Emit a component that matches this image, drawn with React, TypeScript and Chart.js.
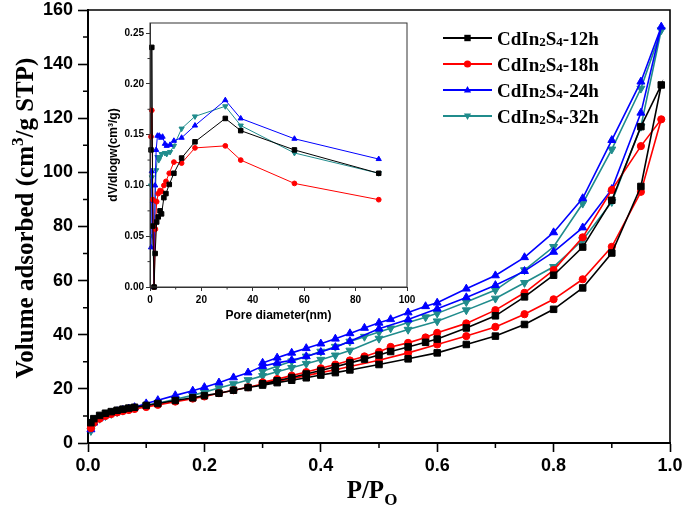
import React, { useEffect, useRef } from 'react';
import { Chart, registerables } from 'chart.js';

Chart.register(...registerables);

// ---------- main isotherm data ----------
const ADS_P = [0.005, 0.01, 0.02, 0.03, 0.04, 0.05, 0.06, 0.07, 0.08, 0.1, 0.12, 0.15, 0.18, 0.2, 0.225, 0.25, 0.275, 0.3, 0.325, 0.35, 0.375, 0.4, 0.425, 0.45, 0.5, 0.55, 0.6, 0.65, 0.7, 0.75, 0.8, 0.85, 0.9, 0.95, 0.985];
const DES_P = [0.95, 0.9, 0.85, 0.8, 0.75, 0.7, 0.65, 0.6, 0.58, 0.55, 0.52, 0.5, 0.475, 0.45, 0.425, 0.4, 0.375, 0.35, 0.325, 0.3];

const ADS_12H = [7.5, 9.0, 10.2, 11.0, 11.6, 12.1, 12.5, 12.9, 13.2, 13.9, 14.6, 15.7, 16.7, 17.5, 18.4, 19.5, 20.5, 21.4, 22.3, 23.2, 24.1, 25.1, 26.0, 27.0, 29.0, 31.1, 33.3, 36.4, 39.5, 43.8, 49.4, 57.3, 70.2, 94.8, 132.3];
const DES_12H = [116.9, 89.7, 72.4, 62.0, 54.0, 47.0, 42.5, 38.4, 37.2, 35.5, 33.8, 32.5, 31.0, 29.6, 28.2, 26.8, 25.5, 24.2, 23.0, 21.9];

const ADS_18H = [5.5, 7.5, 9.0, 10.0, 10.7, 11.3, 11.8, 12.2, 12.6, 13.3, 14.1, 15.3, 16.4, 17.2, 18.4, 19.5, 20.6, 21.8, 22.8, 23.8, 24.9, 26.0, 27.1, 28.3, 30.6, 33.3, 36.4, 39.5, 42.9, 47.6, 53.1, 60.5, 72.5, 92.8, 119.6];
const DES_18H = [109.7, 93.5, 76.0, 63.9, 55.5, 49.1, 44.2, 40.7, 39.0, 37.0, 35.5, 33.7, 32.0, 30.5, 29.0, 27.6, 26.2, 24.9, 23.6, 22.4];

const ADS_24H = [5.0, 7.5, 9.3, 10.3, 11.0, 11.7, 12.2, 12.7, 13.2, 14.6, 15.8, 17.6, 19.3, 20.6, 22.3, 24.2, 26.0, 28.4, 29.6, 30.6, 32.0, 33.6, 35.4, 37.6, 42.2, 45.6, 49.6, 53.8, 58.3, 63.5, 70.6, 79.6, 93.8, 122.0, 153.8];
const DES_24H = [133.5, 111.9, 90.4, 77.8, 68.6, 61.9, 57.0, 51.8, 50.5, 48.2, 45.7, 44.4, 42.5, 40.5, 38.5, 36.7, 35.0, 33.3, 31.5, 29.6];

const ADS_32H = [4.5, 7.0, 9.0, 10.0, 10.8, 11.5, 12.0, 12.5, 12.9, 13.8, 14.7, 16.2, 17.6, 18.8, 20.3, 21.8, 23.3, 24.8, 26.3, 27.8, 29.3, 30.8, 32.4, 34.2, 38.6, 41.9, 45.0, 49.1, 53.4, 59.2, 65.1, 75.0, 89.1, 116.9, 152.6];
const DES_32H = [131.0, 108.5, 88.5, 72.5, 63.9, 56.5, 52.1, 47.9, 46.5, 44.5, 42.4, 41.0, 39.3, 37.5, 35.6, 33.8, 32.0, 30.2, 28.4, 26.5];

const X_TICKS = [0, 0.2, 0.4, 0.6, 0.8, 1.0];
const Y_TICKS = [0, 20, 40, 60, 80, 100, 120, 140, 160];
const X_MINOR = [0.1, 0.3, 0.5, 0.7, 0.9];
const Y_MINOR = [10, 30, 50, 70, 90, 110, 130, 150];

// ---------- inset pore size distribution data ----------
const PSD_12H_D = [0.4, 0.7, 1.1, 1.6, 2.0, 2.6, 3.2, 3.9, 4.5, 5.4, 6.2, 7.5, 9.3, 12.3, 17.5, 29.3, 35.3, 56.2, 89];
const PSD_12H_V = [0.135, 0.236, 0.06, 0.0, 0.033, 0.064, 0.069, 0.075, 0.072, 0.088, 0.092, 0.101, 0.112, 0.127, 0.143, 0.166, 0.154, 0.135, 0.112];
const PSD_18H_D = [0.4, 0.7, 1.1, 1.6, 2.1, 2.6, 3.2, 3.9, 4.5, 5.4, 6.2, 7.5, 9.3, 12.3, 17.5, 29.3, 35.3, 56.2, 89];
const PSD_18H_V = [0.148, 0.174, 0.086, 0.0, 0.057, 0.084, 0.092, 0.095, 0.094, 0.100, 0.104, 0.112, 0.123, 0.122, 0.137, 0.139, 0.125, 0.102, 0.086];
const PSD_24H_D = [0.4, 0.7, 1.1, 1.6, 2.0, 2.4, 2.9, 3.6, 4.3, 4.9, 5.8, 6.5, 7.8, 9.3, 12.3, 17.5, 29.3, 35.3, 56.2, 89];
const PSD_24H_V = [0.039, 0.114, 0.085, 0.0, 0.1, 0.135, 0.149, 0.149, 0.147, 0.148, 0.141, 0.139, 0.140, 0.144, 0.147, 0.159, 0.184, 0.166, 0.146, 0.126];
const PSD_32H_D = [0.4, 0.7, 1.1, 1.6, 2.0, 2.4, 2.9, 3.4, 3.9, 4.5, 5.8, 6.5, 7.8, 9.3, 12.3, 17.5, 29.3, 35.3, 56.2, 89];
const PSD_32H_V = [0.10, 0.108, 0.05, 0.0, 0.085, 0.115, 0.128, 0.125, 0.128, 0.131, 0.132, 0.131, 0.133, 0.139, 0.156, 0.168, 0.178, 0.159, 0.132, 0.112];

const INSET_X_TICKS = [0, 20, 40, 60, 80, 100];
const INSET_Y_TICKS = [0, 0.05, 0.1, 0.15, 0.2, 0.25];
const INSET_X_MINOR = [10, 30, 50, 70, 90];
const INSET_Y_MINOR = [0.025, 0.075, 0.125, 0.175, 0.225];

const SERIES_NAMES = ['12h', '18h', '24h', '32h'];
const COLORS = ['#000000', '#ff0000', '#0000ff', '#208c8c'];
const MARKERS = ['rect', 'circle', 'tri', 'tridown'];

const SANS = "'Liberation Sans', Arial, sans-serif";
const SERIF = "'Liberation Serif', 'Times New Roman', serif";

function isotherm(ads: number[], des: number[]) {
  const a = ADS_P.map((p, i) => ({ x: p, y: ads[i] }));
  const d = DES_P.map((p, i) => ({ x: p, y: des[i] }));
  return a.concat(d);
}

function pairs(xs: number[], ys: number[]) {
  return xs.map((x, i) => ({ x, y: ys[i] }));
}

function styleFor(i: number, big: boolean) {
  const m = MARKERS[i];
  const pointStyle = m === 'rect' ? 'rect' : m === 'circle' ? 'circle' : 'triangle';
  const rotation = m === 'tridown' ? 180 : 0;
  let radius: number;
  if (big) radius = m === 'rect' ? 4.6 : m === 'circle' ? 3.6 : 4.6;
  else radius = m === 'rect' ? 3.2 : m === 'circle' ? 2.4 : 3.0;
  return {
    borderColor: COLORS[i],
    backgroundColor: COLORS[i],
    pointBackgroundColor: COLORS[i],
    pointBorderColor: COLORS[i],
    pointStyle,
    rotation,
    pointRadius: radius,
    pointBorderWidth: 1,
    borderWidth: big ? 1.6 : 1,
    showLine: true,
    tension: 0,
    clip: false as any,
  };
}

function drawMarker(ctx: CanvasRenderingContext2D, kind: string, x: number, y: number, r: number, color: string) {
  ctx.fillStyle = color;
  ctx.beginPath();
  if (kind === 'rect') {
    ctx.rect(x - r, y - r, 2 * r, 2 * r);
  } else if (kind === 'circle') {
    ctx.arc(x, y, r, 0, Math.PI * 2);
  } else if (kind === 'tri') {
    ctx.moveTo(x, y - r * 1.1);
    ctx.lineTo(x + r, y + r * 0.7);
    ctx.lineTo(x - r, y + r * 0.7);
    ctx.closePath();
  } else {
    ctx.moveTo(x, y + r * 1.1);
    ctx.lineTo(x + r, y - r * 0.7);
    ctx.lineTo(x - r, y - r * 0.7);
    ctx.closePath();
  }
  ctx.fill();
}

function fixTicks(values: number[]) {
  return (s: any) => {
    s.ticks = values.map((v) => ({ value: v }));
  };
}

export default function App() {
  const mainRef = useRef<HTMLCanvasElement>(null);
  const insetRef = useRef<HTMLCanvasElement>(null);

  useEffect(() => {
    document.body.style.margin = '0';
    const tickFont = { family: SANS, size: 18, weight: 'bold' as const };

    const mainDecor = {
      id: 'mainDecor',
      afterDraw(chart: any) {
        const ctx: CanvasRenderingContext2D = chart.ctx;
        const { left, right, top, bottom } = chart.chartArea;
        const xs = chart.scales.x;
        const ys = chart.scales.y;
        ctx.save();
        // box top/right
        ctx.strokeStyle = '#000';
        ctx.lineWidth = 1.6;
        ctx.beginPath();
        ctx.moveTo(left, top);
        ctx.lineTo(right, top);
        ctx.lineTo(right, bottom);
        ctx.stroke();
        // minor ticks
        ctx.lineWidth = 1.5;
        ctx.beginPath();
        X_MINOR.forEach((v) => {
          const px = xs.getPixelForValue(v);
          ctx.moveTo(px, bottom);
          ctx.lineTo(px, bottom + 5);
        });
        Y_MINOR.forEach((v) => {
          const py = ys.getPixelForValue(v);
          ctx.moveTo(left, py);
          ctx.lineTo(left - 5, py);
        });
        ctx.stroke();

        // y title
        ctx.fillStyle = '#000';
        ctx.save();
        ctx.translate(24, 218);
        ctx.rotate(-Math.PI / 2);
        const big = `bold 25px ${SERIF}`;
        const sup = `bold 17px ${SERIF}`;
        const p1 = 'Volume adsorbed (cm';
        const p2 = '3';
        const p3 = '/g STP)';
        ctx.font = big;
        const w1 = ctx.measureText(p1).width;
        const w3 = ctx.measureText(p3).width;
        ctx.font = sup;
        const w2 = ctx.measureText(p2).width;
        const total = w1 + w2 + w3;
        let u = -total / 2;
        ctx.textBaseline = 'alphabetic';
        ctx.textAlign = 'left';
        ctx.font = big;
        ctx.fillText(p1, u, 9);
        u += w1;
        ctx.font = sup;
        ctx.fillText(p2, u, -1);
        u += w2;
        ctx.font = big;
        ctx.fillText(p3, u, 9);
        ctx.restore();

        // x title
        ctx.font = `bold 25px ${SERIF}`;
        const t1 = 'P/P';
        const tw1 = ctx.measureText(t1).width;
        ctx.font = `bold 17px ${SERIF}`;
        const t2 = 'O';
        const tw2 = ctx.measureText(t2).width;
        const sx = 372 - (tw1 + tw2) / 2;
        ctx.textAlign = 'left';
        ctx.textBaseline = 'alphabetic';
        ctx.font = `bold 25px ${SERIF}`;
        ctx.fillText(t1, sx, 498);
        ctx.font = `bold 17px ${SERIF}`;
        ctx.fillText(t2, sx + tw1, 505);

        // legend
        const rowY = [38, 64, 90, 116];
        SERIES_NAMES.forEach((name, i) => {
          const y = rowY[i];
          ctx.strokeStyle = COLORS[i];
          ctx.lineWidth = 2;
          ctx.beginPath();
          ctx.moveTo(443, y);
          ctx.lineTo(492, y);
          ctx.stroke();
          drawMarker(ctx, MARKERS[i], 467.5, y, MARKERS[i] === 'rect' ? 3.2 : 3.6, COLORS[i]);
          ctx.fillStyle = '#000';
          let x = 497;
          const baseY = y + 6.5;
          const parts: [string, boolean][] = [['CdIn', false], ['2', true], ['S', false], ['4', true], ['-' + name, false]];
          parts.forEach(([txt, small]) => {
            ctx.font = small ? `bold 13px ${SERIF}` : `bold 19px ${SERIF}`;
            ctx.fillText(txt, x, small ? baseY + 1 : baseY);
            x += ctx.measureText(txt).width;
          });
        });
        ctx.restore();
      },
    };

    const main = new Chart(mainRef.current!, {
      type: 'scatter',
      data: {
        datasets: [
          { label: 'CdIn2S4-12h', data: isotherm(ADS_12H, DES_12H), ...styleFor(0, true) },
          { label: 'CdIn2S4-18h', data: isotherm(ADS_18H, DES_18H), ...styleFor(1, true) },
          { label: 'CdIn2S4-24h', data: isotherm(ADS_24H, DES_24H), ...styleFor(2, true) },
          { label: 'CdIn2S4-32h', data: isotherm(ADS_32H, DES_32H), ...styleFor(3, true) },
        ] as any,
      },
      options: {
        animation: false,
        responsive: false,
        maintainAspectRatio: false,
        layout: { padding: { top: 10, right: 15, left: 0, bottom: 0 } },
        plugins: { legend: { display: false }, tooltip: { enabled: false } },
        scales: {
          x: {
            type: 'linear',
            min: 0,
            max: 1,
            afterBuildTicks: fixTicks(X_TICKS),
            afterFit: (s: any) => {
              s.height = 68;
              s.paddingLeft = 0;
              s.paddingRight = 0;
            },
            ticks: {
              font: tickFont,
              color: '#000',
              padding: 3,
              maxRotation: 0,
              autoSkip: false,
              callback: (v: any) => Number(v).toFixed(1),
            },
            grid: { display: true, drawOnChartArea: false, drawTicks: true, tickLength: 9, tickColor: '#000', tickWidth: 1.6 },
            border: { display: true, color: '#000', width: 2 },
          },
          y: {
            type: 'linear',
            min: 0,
            max: 160,
            afterBuildTicks: fixTicks(Y_TICKS),
            afterFit: (s: any) => {
              s.width = 88;
              s.paddingTop = 0;
              s.paddingBottom = 0;
            },
            ticks: {
              font: tickFont,
              color: '#000',
              padding: 5,
              autoSkip: false,
              callback: (v: any) => String(v),
            },
            grid: { display: true, drawOnChartArea: false, drawTicks: true, tickLength: 10, tickColor: '#000', tickWidth: 1.6 },
            border: { display: true, color: '#000', width: 2 },
          },
        },
      },
      plugins: [mainDecor],
    });

    const insetDecor = {
      id: 'insetDecor',
      afterDraw(chart: any) {
        const ctx: CanvasRenderingContext2D = chart.ctx;
        const { left, right, top, bottom } = chart.chartArea;
        const xs = chart.scales.x;
        const ys = chart.scales.y;
        ctx.save();
        ctx.strokeStyle = '#333';
        ctx.lineWidth = 1;
        ctx.strokeRect(left, top, right - left, bottom - top);
        ctx.beginPath();
        INSET_X_MINOR.forEach((v) => {
          const px = xs.getPixelForValue(v);
          ctx.moveTo(px, bottom);
          ctx.lineTo(px, bottom + 2.5);
        });
        INSET_Y_MINOR.forEach((v) => {
          const py = ys.getPixelForValue(v);
          ctx.moveTo(left, py);
          ctx.lineTo(left - 2.5, py);
        });
        ctx.stroke();
        ctx.restore();
      },
    };

    const insetTickFont = { family: SANS, size: 10, weight: 'bold' as const };
    const insetTitleFont = { family: SANS, size: 12, weight: 'bold' as const };

    const inset = new Chart(insetRef.current!, {
      type: 'scatter',
      data: {
        datasets: [
          { label: '12h', data: pairs(PSD_12H_D, PSD_12H_V), ...styleFor(0, false) },
          { label: '18h', data: pairs(PSD_18H_D, PSD_18H_V), ...styleFor(1, false) },
          { label: '24h', data: pairs(PSD_24H_D, PSD_24H_V), ...styleFor(2, false) },
          { label: '32h', data: pairs(PSD_32H_D, PSD_32H_V), ...styleFor(3, false) },
        ] as any,
      },
      options: {
        animation: false,
        responsive: false,
        maintainAspectRatio: false,
        layout: { padding: { top: 11, right: 13, left: 0, bottom: 0 } },
        plugins: { legend: { display: false }, tooltip: { enabled: false } },
        scales: {
          x: {
            type: 'linear',
            min: 0,
            max: 100,
            afterBuildTicks: fixTicks(INSET_X_TICKS),
            afterFit: (s: any) => {
              s.height = 43;
              s.paddingLeft = 0;
              s.paddingRight = 0;
            },
            ticks: { font: insetTickFont, color: '#000', padding: 3, maxRotation: 0, autoSkip: false, callback: (v: any) => String(v) },
            grid: { display: true, drawOnChartArea: false, drawTicks: true, tickLength: 4, tickColor: '#333', tickWidth: 1 },
            border: { display: true, color: '#333', width: 1 },
            title: { display: true, text: 'Pore diameter(nm)', font: insetTitleFont, color: '#000', padding: { top: 0, bottom: 7 } },
          },
          y: {
            type: 'linear',
            min: 0,
            max: 0.26,
            afterBuildTicks: fixTicks(INSET_Y_TICKS),
            afterFit: (s: any) => {
              s.width = 50;
              s.paddingTop = 0;
              s.paddingBottom = 0;
            },
            ticks: { font: insetTickFont, color: '#000', padding: 2, autoSkip: false, callback: (v: any) => Number(v).toFixed(2) },
            grid: { display: true, drawOnChartArea: false, drawTicks: true, tickLength: 4, tickColor: '#333', tickWidth: 1 },
            border: { display: true, color: '#333', width: 1 },
            title: { display: true, text: 'dV/dlogw(cm³/g)', font: insetTitleFont, color: '#000', padding: { top: 6, bottom: 0 } },
          },
        },
      },
      plugins: [insetDecor],
    });

    return () => {
      main.destroy();
      inset.destroy();
    };
  }, []);

  return (
    <div style={{ position: 'relative', width: 685, height: 511, background: '#fff' }}>
      <canvas ref={mainRef} width={685} height={511} style={{ position: 'absolute', left: 0, top: 0, width: 685, height: 511 }} />
      <canvas ref={insetRef} width={320} height={318} style={{ position: 'absolute', left: 100, top: 12, width: 320, height: 318 }} />
    </div>
  );
}
